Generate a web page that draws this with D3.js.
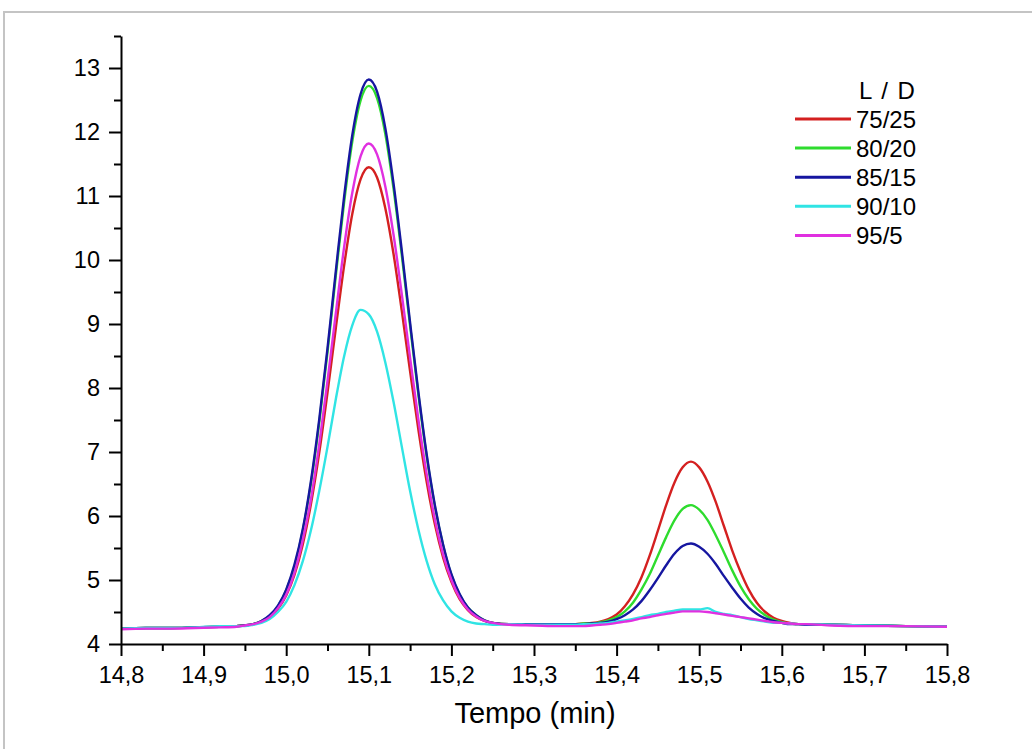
<!DOCTYPE html>
<html>
<head>
<meta charset="utf-8">
<script src="https://cdn.jsdelivr.net/npm/d3@7"></script>
<style>
  html, body { margin: 0; padding: 0; background: #fff; }
  svg { display: block; font-family: Arial, "Liberation Sans", sans-serif; }
  .axis path, .axis line { stroke: #000; stroke-width: 2; }
  .axis text { fill: #000; }
</style>
</head>
<body>
<svg id="chart" width="1032" height="749"></svg>
<script>
// ── data ──
const tempo = [
  14.80, 14.83, 14.86, 14.89, 14.92, 14.94,
  14.95, 14.96, 14.97, 14.98, 14.99, 15.00, 15.01, 15.02, 15.03, 15.04, 15.05,
  15.06, 15.07, 15.08, 15.09, 15.10, 15.11, 15.12, 15.13, 15.14, 15.15,
  15.16, 15.17, 15.18, 15.19, 15.20, 15.21, 15.22, 15.23, 15.24, 15.25,
  15.27, 15.30, 15.33,
  15.35, 15.36, 15.37, 15.38, 15.39, 15.40, 15.41, 15.42, 15.43, 15.44,
  15.45, 15.46, 15.47, 15.48, 15.49, 15.50, 15.51, 15.52, 15.53, 15.54,
  15.55, 15.56, 15.57, 15.58, 15.59, 15.60, 15.61, 15.62, 15.63,
  15.66, 15.70, 15.75, 15.80
];

const ld75_25 = [
  4.24, 4.25, 4.25, 4.26, 4.27, 4.28,
  4.29, 4.31, 4.35, 4.42, 4.55, 4.76, 5.08, 5.55, 6.19, 6.99, 7.93,
  8.93, 9.90, 10.72, 11.26, 11.45, 11.29, 10.81, 10.09, 9.20, 8.26,
  7.35, 6.54, 5.87, 5.35, 4.97, 4.70, 4.53, 4.42, 4.36, 4.33,
  4.31, 4.31, 4.31,
  4.31, 4.32, 4.33, 4.35, 4.39, 4.46, 4.59, 4.78, 5.04, 5.38,
  5.77, 6.17, 6.52, 6.76, 6.85, 6.76, 6.54, 6.22, 5.84, 5.46,
  5.13, 4.85, 4.64, 4.50, 4.41, 4.36, 4.33, 4.31, 4.31,
  4.30, 4.29, 4.28, 4.27
];
const ld80_20 = [
  4.24, 4.25, 4.25, 4.26, 4.27, 4.28,
  4.29, 4.31, 4.36, 4.44, 4.59, 4.84, 5.21, 5.77, 6.51, 7.46, 8.56,
  9.75, 10.89, 11.85, 12.49, 12.72, 12.53, 11.97, 11.11, 10.07, 8.97,
  7.90, 6.94, 6.15, 5.54, 5.08, 4.77, 4.57, 4.45, 4.37, 4.33,
  4.31, 4.31, 4.31,
  4.31, 4.32, 4.32, 4.34, 4.37, 4.42, 4.51, 4.65, 4.85, 5.09,
  5.38, 5.67, 5.93, 6.11, 6.17, 6.10, 5.94, 5.70, 5.43, 5.15,
  4.90, 4.70, 4.55, 4.45, 4.38, 4.34, 4.32, 4.31, 4.30,
  4.30, 4.29, 4.28, 4.27
];
const ld85_15 = [
  4.24, 4.25, 4.25, 4.26, 4.27, 4.28,
  4.29, 4.31, 4.36, 4.45, 4.60, 4.85, 5.24, 5.79, 6.55, 7.51, 8.62,
  9.82, 10.98, 11.95, 12.59, 12.82, 12.63, 12.06, 11.19, 10.14, 9.02,
  7.94, 6.97, 6.17, 5.55, 5.09, 4.78, 4.57, 4.45, 4.37, 4.33,
  4.31, 4.31, 4.31,
  4.31, 4.31, 4.32, 4.33, 4.35, 4.39, 4.45, 4.54, 4.67, 4.84,
  5.03, 5.23, 5.41, 5.53, 5.57, 5.52, 5.41, 5.25, 5.06, 4.88,
  4.71, 4.57, 4.47, 4.40, 4.36, 4.33, 4.31, 4.31, 4.30,
  4.30, 4.29, 4.28, 4.27
];
const ld90_10 = [
  4.24, 4.25, 4.25, 4.26, 4.28, 4.28,
  4.28, 4.30, 4.33, 4.39, 4.50, 4.66, 4.92, 5.29, 5.78, 6.39, 7.08,
  7.82, 8.49, 8.98, 9.22, 9.15, 8.88, 8.40, 7.78, 7.08, 6.39,
  5.79, 5.30, 4.93, 4.68, 4.51, 4.41, 4.35, 4.32, 4.31, 4.30,
  4.31, 4.30, 4.30,
  4.30, 4.31, 4.31, 4.32, 4.33, 4.35, 4.37, 4.39, 4.42, 4.45,
  4.47, 4.50, 4.52, 4.54, 4.54, 4.54, 4.56, 4.50, 4.47, 4.45,
  4.42, 4.39, 4.37, 4.35, 4.33, 4.33, 4.32, 4.31, 4.31,
  4.30, 4.29, 4.28, 4.27
];
const ld95_5 = [
  4.23, 4.24, 4.24, 4.25, 4.26, 4.27,
  4.29, 4.31, 4.35, 4.42, 4.56, 4.77, 5.11, 5.62, 6.27, 7.12, 8.11,
  9.16, 10.19, 11.05, 11.62, 11.82, 11.65, 11.15, 10.39, 9.46, 8.47,
  7.51, 6.66, 5.95, 5.40, 5.00, 4.72, 4.54, 4.43, 4.36, 4.33,
  4.30, 4.29, 4.28,
  4.28, 4.28, 4.29, 4.30, 4.31, 4.33, 4.35, 4.37, 4.40, 4.42,
  4.45, 4.47, 4.49, 4.51, 4.51, 4.51, 4.50, 4.48, 4.46, 4.44,
  4.42, 4.40, 4.38, 4.36, 4.34, 4.33, 4.32, 4.31, 4.31,
  4.29, 4.28, 4.28, 4.27
];

const seriesNames  = ['75/25', '80/20', '85/15', '90/10', '95/5'];
const seriesValues = [ld75_25, ld80_20, ld85_15, ld90_10, ld95_5];
const seriesColors = ['#d42020', '#2edc2e', '#1616a0', '#30e4e4', '#e030e0'];

const xTicks = [14.8, 14.9, 15.0, 15.1, 15.2, 15.3, 15.4, 15.5, 15.6, 15.7, 15.8];
const yTicks = [4, 5, 6, 7, 8, 9, 10, 11, 12, 13];
const xTitle = 'Tempo (min)';
const legendTitle = 'L / D';

// ── layout ──
const svg = d3.select('#chart');
const x = d3.scaleLinear().domain([14.8, 15.8]).range([121, 947]);
const y = d3.scaleLinear().domain([4, 13.5]).range([644, 36]);
const fmtComma = v => d3.format('.1f')(v).replace('.', ',');

// gray frame (top and left edges only visible)
svg.append('path')
  .attr('d', 'M4,749 V12 H1032')
  .attr('fill', 'none').attr('stroke', '#c4c4c4').attr('stroke-width', 2);

// curves
const line = d3.line()
  .x((d, i) => x(tempo[i]))
  .y(d => y(d))
  .curve(d3.curveMonotoneX);

seriesValues.forEach((vals, k) => {
  svg.append('path')
    .datum(vals)
    .attr('fill', 'none')
    .attr('stroke', seriesColors[k])
    .attr('stroke-width', 2.4)
    .attr('stroke-linejoin', 'round')
    .attr('d', line);
});

// minor ticks
const xMinor = d3.range(14.85, 15.8, 0.1);
const yMinor = d3.range(4.5, 13.6, 1);
svg.append('g').attr('class', 'axis').attr('transform', 'translate(0,644)')
  .call(d3.axisBottom(x).tickValues(xMinor).tickSize(7).tickFormat(''))
  .call(g => g.select('.domain').remove());
svg.append('g').attr('class', 'axis').attr('transform', 'translate(121,0)')
  .call(d3.axisLeft(y).tickValues(yMinor).tickSize(7).tickFormat(''))
  .call(g => g.select('.domain').remove());

// major axes
svg.append('g').attr('class', 'axis').attr('transform', 'translate(0,644)')
  .call(d3.axisBottom(x).tickValues(xTicks).tickSize(12).tickSizeOuter(0).tickPadding(10).tickFormat(fmtComma))
  .call(g => g.selectAll('text').attr('font-size', 23.5));
svg.append('g').attr('class', 'axis').attr('transform', 'translate(121,0)')
  .call(d3.axisLeft(y).tickValues(yTicks).tickSize(12).tickSizeOuter(0).tickPadding(9).tickFormat(d3.format('d')))
  .call(g => g.selectAll('text').attr('font-size', 23.5));

// axis title
svg.append('text')
  .attr('x', 535).attr('y', 723)
  .attr('text-anchor', 'middle').attr('font-size', 29)
  .text(xTitle);

// legend
svg.append('text')
  .attr('x', 887).attr('y', 99)
  .attr('text-anchor', 'middle').attr('font-size', 24)
  .attr('word-spacing', 3)
  .text(legendTitle);
const leg = svg.append('g').attr('transform', 'translate(795,119)');
seriesNames.forEach((name, k) => {
  const gy = k * 29.1;
  leg.append('line')
    .attr('x1', 0).attr('x2', 56).attr('y1', gy).attr('y2', gy)
    .attr('stroke', seriesColors[k]).attr('stroke-width', 3);
  leg.append('text')
    .attr('x', 61).attr('y', gy + 8.5)
    .attr('font-size', 24)
    .text(name);
});
</script>
</body>
</html>
